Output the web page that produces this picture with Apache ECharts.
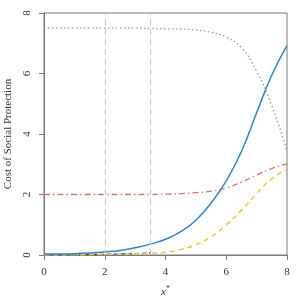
<!DOCTYPE html>
<html><head><meta charset="utf-8">
<script src="https://cdn.jsdelivr.net/npm/echarts@6/dist/echarts.min.js"></script>
<style>html,body{margin:0;padding:0;background:#fff}#c{width:300px;height:300px}</style>
</head><body><div id="c"></div>
<script>
const xs = [0,0.5,1,1.5,2,2.5,3,3.5,4,4.5,5,5.5,6,6.5,7,7.5,8];
const greyDotted = [7.5,7.5,7.5,7.5,7.5,7.5,7.5,7.49,7.48,7.47,7.44,7.36,7.2,6.85,6.07,4.93,3.44];
const blueSolid = [0.03,0.035,0.045,0.065,0.1,0.15,0.24,0.36,0.52,0.77,1.15,1.72,2.45,3.42,4.7,5.95,6.92];
const redDashDot = [2.0,2.0,2.0,2.0,2.0,2.0,2.0,2.0,2.01,2.03,2.06,2.11,2.22,2.41,2.64,2.86,3.01];
const yellowDashed = [0.0,0.0,0.005,0.01,0.02,0.03,0.04,0.055,0.09,0.18,0.34,0.6,1.0,1.48,2.03,2.53,2.83];
const darkXs = [0,0.5,1,1.5,2,2.5,3,3.5];
const darkDashed = [0.01,0.012,0.015,0.02,0.025,0.035,0.05,0.07];
const vLines = [2,3.5];
const xTicks = {min:0,max:8,interval:2};
const yTicks = {min:0,max:8,interval:2};

const pairs = (x,y)=>x.map((v,i)=>[v,y[i]]);
const serif = 'Liberation Serif, DejaVu Serif, serif';
const axisGrey = '#7a7a7a';

const chart = echarts.init(document.getElementById('c'));
chart.setOption({
  animation:false,
  backgroundColor:'#fff',
  grid:{left:44,right:13,top:13,bottom:45,show:true,borderColor:axisGrey,borderWidth:1,outerBoundsMode:'none',containLabel:false},
  xAxis:{type:'value',min:xTicks.min,max:xTicks.max,interval:xTicks.interval,
    name:'{i|x}{s|*}',nameLocation:'middle',nameGap:30,
    nameTextStyle:{rich:{i:{fontFamily:serif,fontStyle:'italic',fontSize:11,color:'#333'},s:{fontFamily:serif,fontSize:8,color:'#333',verticalAlign:'top',padding:[0,0,6,0]}}},
    axisLine:{show:true,lineStyle:{color:axisGrey}},
    axisTick:{show:true,length:5,lineStyle:{color:axisGrey}},
    axisLabel:{fontFamily:serif,fontSize:11,color:'#333',margin:12},
    splitLine:{show:false}},
  yAxis:{type:'value',min:yTicks.min,max:yTicks.max,interval:yTicks.interval,
    name:'Cost of Social Protection',nameLocation:'middle',nameGap:26,
    nameTextStyle:{fontFamily:serif,fontSize:11,color:'#333'},
    axisLine:{show:true,lineStyle:{color:axisGrey}},
    axisTick:{show:true,length:5,lineStyle:{color:axisGrey}},
    axisLabel:{fontFamily:serif,fontSize:11,color:'#333',rotate:90,margin:11},
    splitLine:{show:false}},
  series:[
    {type:'line',data:pairs(xs,greyDotted),showSymbol:false,smooth:0.5,
      lineStyle:{color:'#9a9a9a',type:[1.5,2.5],width:1.3},
      markLine:{silent:true,symbol:'none',label:{show:false},
        lineStyle:{color:'#c4c4c4',type:[6,4],width:1},
        data:vLines.map(v=>({xAxis:v}))}},
    {type:'line',data:pairs(xs,redDashDot),showSymbol:false,smooth:0.5,
      lineStyle:{color:'#e0716a',type:[6,3,1.5,3],width:1.3}},
    {type:'line',data:pairs(darkXs,darkDashed),showSymbol:false,smooth:0.5,
      lineStyle:{color:'#24465a',type:[4,3],width:1.2}},
    {type:'line',data:pairs(xs,yellowDashed),showSymbol:false,smooth:0.5,
      lineStyle:{color:'#f4c430',type:[5,4],width:1.4}},
    {type:'line',data:pairs(xs,blueSolid),showSymbol:false,smooth:0.5,
      lineStyle:{color:'#2a86cf',width:1.5}}
  ]
});
</script></body></html>
